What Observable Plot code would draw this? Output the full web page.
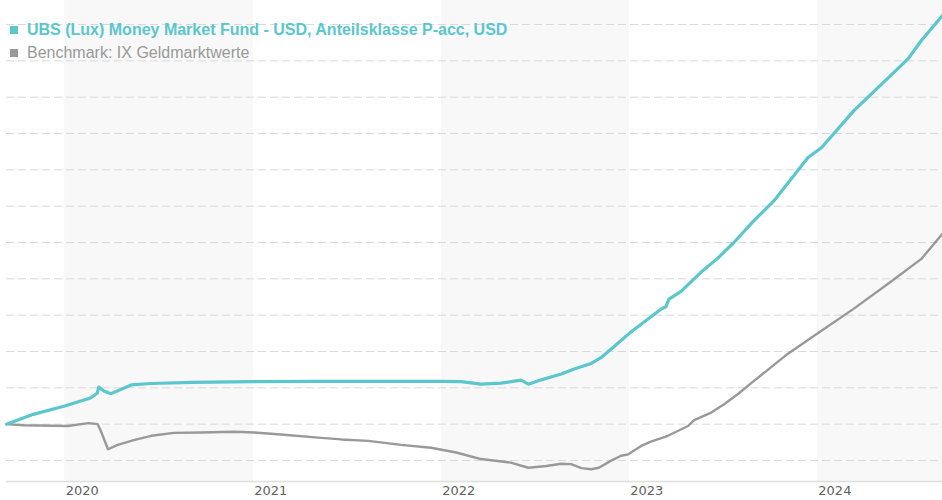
<!DOCTYPE html>
<html>
<head>
<meta charset="utf-8">
<script src="https://cdn.jsdelivr.net/npm/d3@7"></script>
<script src="https://cdn.jsdelivr.net/npm/@observablehq/plot@0.6"></script>
<style>
  html, body { margin: 0; padding: 0; background: #fff; }
  #wrap { position: relative; width: 942px; height: 500px; overflow: hidden; }
  #legend { position: absolute; left: 10px; top: 18px; font-family: "Liberation Sans", Arial, sans-serif; font-size: 16px; line-height: 23px; white-space: nowrap; }
  #legend .sw { display: inline-block; width: 8px; height: 8px; margin-right: 9px; position: relative; top: -1px; }
</style>
</head>
<body>
<div id="wrap">
  <div id="chart"></div>
  <div id="legend"></div>
</div>
<script>
// ---- Data (indexed to 100 at start) ----
const seriesNames = ["UBS (Lux) Money Market Fund - USD, Anteilsklasse P-acc, USD", "Benchmark: IX Geldmarktwerte"];
const seriesColors = ["#5bc6cd", "#999999"];

const fundDates = ["2019-09-10","2019-11-01","2020-01-01","2020-02-20","2020-03-04","2020-03-07","2020-03-17","2020-03-31","2020-05-09","2020-06-17","2020-09-04","2020-12-29","2021-05-05","2022-01-01","2022-02-09","2022-03-19","2022-04-27","2022-06-05","2022-06-19","2022-07-14","2022-08-22","2022-09-16","2022-10-19","2022-11-07","2022-12-02","2023-01-01","2023-01-24","2023-03-04","2023-03-13","2023-03-19","2023-04-11","2023-05-20","2023-06-22","2023-07-23","2023-08-31","2023-10-09","2023-12-14","2024-01-09","2024-03-12","2024-05-18","2024-06-26","2024-07-21","2024-08-31"];
const fundValues = [100.00,100.27,100.50,100.72,100.85,101.02,100.91,100.84,101.08,101.12,101.15,101.17,101.18,101.18,101.17,101.10,101.13,101.21,101.10,101.22,101.38,101.52,101.67,101.83,102.13,102.50,102.75,103.17,103.23,103.44,103.65,104.18,104.57,105.00,105.60,106.15,107.34,107.61,108.63,109.54,110.07,110.56,111.25];

const benchDates = ["2019-09-10","2019-10-13","2020-01-07","2020-02-16","2020-03-05","2020-03-11","2020-03-25","2020-04-13","2020-05-14","2020-06-17","2020-07-31","2020-09-22","2020-11-25","2021-01-03","2021-03-02","2021-05-07","2021-06-21","2021-08-12","2021-10-15","2021-12-12","2022-01-30","2022-03-19","2022-05-16","2022-06-19","2022-07-24","2022-08-22","2022-09-10","2022-09-30","2022-10-19","2022-11-03","2022-11-26","2022-12-16","2022-12-30","2023-01-24","2023-02-12","2023-03-17","2023-04-25","2023-05-07","2023-06-09","2023-07-04","2023-07-31","2023-08-31","2023-11-05","2024-01-09","2024-03-12","2024-05-18","2024-07-21","2024-08-31"];
const benchValues = [100.00,99.97,99.95,100.03,100.00,99.82,99.31,99.43,99.56,99.68,99.76,99.77,99.79,99.77,99.71,99.63,99.58,99.54,99.43,99.35,99.22,99.04,98.94,98.80,98.85,98.91,98.90,98.79,98.76,98.80,98.99,99.13,99.17,99.40,99.52,99.68,99.95,100.11,100.32,100.55,100.83,101.19,101.94,102.57,103.18,103.87,104.55,105.24];

const tickYears = [2020, 2021, 2022, 2023, 2024];
const shadedYears = [2020, 2022, 2024];
const gridValues = [99, 100, 101, 102, 103, 104, 105, 106, 107, 108, 109, 110, 111];
const xDomain = ["2019-09-10", "2024-08-31"];
const yDomain = [98.422, 111.661];

// ---- Build tables ----
const fund = fundDates.map((d, i) => ({date: new Date(d), value: fundValues[i]}));
const bench = benchDates.map((d, i) => ({date: new Date(d), value: benchValues[i]}));
const yStart = y => new Date(Date.UTC(y, 0, 1));

const chart = Plot.plot({
  width: 942,
  height: 500,
  marginLeft: 6,
  marginRight: 0,
  marginTop: 0,
  marginBottom: 19,
  x: {type: "utc", domain: xDomain.map(d => new Date(d)), axis: null},
  y: {domain: yDomain, axis: null},
  style: {fontFamily: "'DejaVu Sans', Verdana, sans-serif", fontSize: "13px", background: "white", color: "#666"},
  marks: [
    Plot.rect(shadedYears, {x1: d => yStart(d), x2: d => yStart(d + 1), fill: "#f8f8f8", clip: true}),
    Plot.ruleY(gridValues, {stroke: "#d9d9d9", strokeWidth: 1, strokeDasharray: "8,4"}),
    Plot.ruleY([yDomain[0]], {stroke: "#dedede", strokeWidth: 1.5}),
    Plot.axisX({ticks: tickYears.map(yStart), tickFormat: d => String(d.getUTCFullYear()), tickSize: 0, tickPadding: 4, textAnchor: "start", dx: 1, fill: "#5f5f5f", fontSize: 13}),
    Plot.line(bench, {x: "date", y: "value", stroke: seriesColors[1], strokeWidth: 2.4}),
    Plot.line(fund, {x: "date", y: "value", stroke: seriesColors[0], strokeWidth: 3.2})
  ]
});
document.getElementById("chart").appendChild(chart);

// ---- Legend (overlaid top-left) ----
const legend = document.getElementById("legend");
seriesNames.forEach((name, i) => {
  const row = document.createElement("div");
  row.style.color = seriesColors[i];
  row.style.fontWeight = i === 0 ? "bold" : "normal";
  const sw = document.createElement("span");
  sw.className = "sw";
  sw.style.background = seriesColors[i];
  row.appendChild(sw);
  row.appendChild(document.createTextNode(name));
  legend.appendChild(row);
});
</script>
</body>
</html>
